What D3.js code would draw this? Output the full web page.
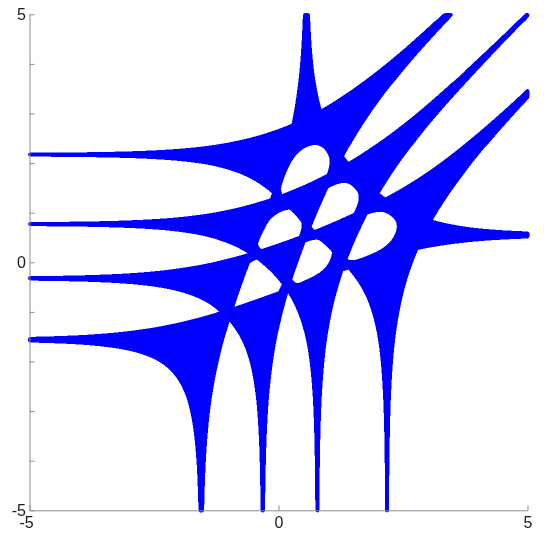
<!DOCTYPE html>
<html>
<head>
<meta charset="utf-8">
<script src="https://cdn.jsdelivr.net/npm/d3@7/dist/d3.min.js"></script>
<style>
  html, body { margin: 0; padding: 0; background: #fff; }
  #chart { position: relative; width: 544px; height: 535px; }
  #chart canvas, #chart svg { position: absolute; left: 0; top: 0; }
  .tick text { font-family: "Liberation Sans", Arial, sans-serif; font-size: 16px; fill: #1a1a1a; }
</style>
</head>
<body>
<div id="chart"></div>
<script>
// ---------------------------------------------------------------------------
// Amoeba of a symmetric polynomial p(x, y) = sum c[i][j] x^i y^j, p(x,y) = p(y,x),
// drawn in log coordinates (log|x|, log|y|) over [-5, 5] x [-5, 5].
// ---------------------------------------------------------------------------

// Asymptotes (log scale) of the four arms running left (and, mirrored, down)
const armLogPositions = [-1.555, -0.32, 0.775, 2.175];
// Asymptote of the single arm running up (and, mirrored, to the right)
const sideArmLog = 0.555;
// Offsets log|y| - log|x| of the two outer diagonal arms (the middle one sits at 0)
const diagonalArmOffset = 1.6;
// Interior monomials x^i y^j (each mirrored term x^j y^i shares the coefficient)
const interiorTerms = [[1, 1], [2, 1], [3, 1], [2, 2]];
const interiorCoefs = [79.48, 71.71, 16.03, 36.40];

// Axis ticks
const xTickValues = [-5, 0, 5];
const yTickValues = [-5, -4, -3, -2, -1, 0, 1, 2, 3, 4, 5];
const labelledTicks = [-5, 0, 5];

const W = 544, H = 535;
const xs = d3.scaleLinear().domain([-5, 5]).range([29.5, 527.5]);
const ys = d3.scaleLinear().domain([-5, 5]).range([510.3, 14.3]);

// Coefficient table: edge polynomials from the arm asymptotes, then the interior terms
function coefficientTable() {
  const roots = armLogPositions.map(Math.exp);
  const e = [1, 0, 0, 0, 0];                       // elementary symmetric functions
  roots.forEach(r => { for (let k = 4; k >= 1; k--) e[k] += e[k - 1] * r; });
  const C = Array.from({length: 5}, () => new Float64Array(5));
  for (let i = 0; i <= 4; i++) { C[i][0] = e[4 - i]; C[0][i] = e[4 - i]; }
  const c41 = Math.exp(-sideArmLog) * C[4][0];
  C[4][1] = C[1][4] = c41;
  const c32 = c41 * (1 + 2 * Math.cosh(diagonalArmOffset));
  C[3][2] = C[2][3] = c32;
  interiorTerms.forEach(([i, j], k) => { C[i][j] = C[j][i] = interiorCoefs[k]; });
  return C;
}

// Simultaneous (Aberth) iteration for the four roots of a monic quartic
function aberth(ar, ai, zr, zi, maxIt) {
  for (let it = 0; it < maxIt; it++) {
    let maxStep = 0;
    for (let k = 0; k < 4; k++) {
      const xr = zr[k], xi = zi[k];
      let pr = ar[4], pi = ai[4], dr = 0, di = 0;
      for (let j = 3; j >= 0; j--) {
        let t = dr * xr - di * xi + pr; di = dr * xi + di * xr + pi; dr = t;
        t = pr * xr - pi * xi + ar[j]; pi = pr * xi + pi * xr + ai[j]; pr = t;
      }
      let den = dr * dr + di * di; if (!(den > 0)) den = 1e-300;
      const nr = (pr * dr + pi * di) / den, ni = (pi * dr - pr * di) / den;
      let sr = 0, si = 0;
      for (let j = 0; j < 4; j++) if (j !== k) {
        const er = xr - zr[j], ei = xi - zi[j];
        let e2 = er * er + ei * ei; if (!(e2 > 0)) e2 = 1e-300;
        sr += er / e2; si -= ei / e2;
      }
      const qr = 1 - (nr * sr - ni * si), qi = -(nr * si + ni * sr);
      let q2 = qr * qr + qi * qi; if (!(q2 > 0)) q2 = 1e-300;
      const wr = (nr * qr + ni * qi) / q2, wi = (ni * qr - nr * qi) / q2;
      zr[k] = xr - wr; zi[k] = xi - wi;
      const s = (Math.abs(wr) + Math.abs(wi)) / (Math.abs(xr) + Math.abs(xi) + 1e-300);
      if (s > maxStep) maxStep = s;
    }
    if (!isFinite(maxStep)) return false;
    if (maxStep < 1e-9) return true;
  }
  return false;
}
function coldStart(ar, ai, zr, zi) {
  const rho = Math.pow(Math.hypot(ar[0], ai[0]), 0.25) || 1;
  for (let k = 0; k < 4; k++) {
    const a = k * Math.PI / 2 + 0.7;
    zr[k] = rho * Math.cos(a); zi[k] = rho * Math.sin(a);
  }
}

// Supersampled coverage mask of the amoeba
const SS = 2, SW = W * SS, SH = H * SS;
const mask = new Uint8Array(SW * SH);
function stamp(u, v) {
  if (u < -5 || u > 5 || v < -5 || v > 5) return;
  const px = Math.round(xs(u) * SS), py = Math.round(ys(v) * SS);
  if (px >= 0 && px < SW && py >= 0 && py < SH) mask[py * SW + px] = 1;
}

// Walk x = e^(u + i*phi) over a grid, solve p(x, y) = 0 for y and mark (log|x|, log|y|);
// the polynomial is symmetric, so the mirrored point (log|y|, log|x|) belongs too.
function sampleAmoeba(C) {
  const Nphi = 480, u0 = -5, du = 0.01, Nu = 1001;
  const zr = new Float64Array(4), zi = new Float64Array(4);
  const ar = new Float64Array(5), ai = new Float64Array(5);
  const cosI = new Float64Array(5), sinI = new Float64Array(5), rp = new Float64Array(5);
  for (let k = 0; k < Nphi; k++) {
    const phi = (k + 0.5) * 2 * Math.PI / Nphi;
    for (let i = 0; i < 5; i++) { cosI[i] = Math.cos(i * phi); sinI[i] = Math.sin(i * phi); }
    let warm = false;
    for (let m = 0; m < Nu; m++) {
      const u = u0 + m * du, r = Math.exp(u);
      rp[0] = 1; for (let i = 1; i < 5; i++) rp[i] = rp[i - 1] * r;
      for (let j = 0; j < 5; j++) {
        let sr = 0, si = 0;
        for (let i = 0; i < 5; i++) {
          const c = C[i][j];
          if (c !== 0) { sr += c * rp[i] * cosI[i]; si += c * rp[i] * sinI[i]; }
        }
        ar[j] = sr; ai[j] = si;
      }
      const d = ar[4] * ar[4] + ai[4] * ai[4];
      if (!(d > 1e-300)) { warm = false; continue; }
      const ir = ar[4] / d, ii = -ai[4] / d;
      for (let j = 0; j < 4; j++) {
        const t = ar[j] * ir - ai[j] * ii; ai[j] = ar[j] * ii + ai[j] * ir; ar[j] = t;
      }
      ar[4] = 1; ai[4] = 0;
      let ok = false;
      if (warm) ok = aberth(ar, ai, zr, zi, 40);
      if (!ok) { coldStart(ar, ai, zr, zi); ok = aberth(ar, ai, zr, zi, 400); }
      warm = ok;
      if (!ok) continue;
      for (let q = 0; q < 4; q++) {
        const lv = 0.5 * Math.log(zr[q] * zr[q] + zi[q] * zi[q]);
        stamp(u, lv); stamp(lv, u);
      }
    }
  }
}
sampleAmoeba(coefficientTable());

// Round markers: dilate the samples with a small disc, then downsample for smooth edges
const R = 3, offs = [];
for (let dy = -R; dy <= R; dy++) for (let dx = -R; dx <= R; dx++) if (dx * dx + dy * dy <= R * R + 0.5) offs.push(dy * SW + dx);
const dil = new Uint8Array(SW * SH);
for (let y = R; y < SH - R; y++) for (let x = R; x < SW - R; x++) {
  const idx = y * SW + x;
  if (mask[idx]) for (const o of offs) dil[idx + o] = 1;
}

const chart = d3.select("#chart");
const canvas = chart.append("canvas").attr("width", W).attr("height", H).node();
const ctx = canvas.getContext("2d");
const img = ctx.createImageData(W, H);
for (let y = 0; y < H; y++) for (let x = 0; x < W; x++) {
  const s = dil[(2 * y) * SW + 2 * x] + dil[(2 * y) * SW + 2 * x + 1] +
            dil[(2 * y + 1) * SW + 2 * x] + dil[(2 * y + 1) * SW + 2 * x + 1];
  const p = (y * W + x) * 4;
  img.data[p] = 0; img.data[p + 1] = 0; img.data[p + 2] = 255;
  img.data[p + 3] = Math.round(s / 4 * 255);
}
ctx.putImageData(img, 0, 0);

// Axes
const svg = chart.append("svg").attr("width", W).attr("height", H);
const yAxis = d3.axisLeft(ys).tickValues(yTickValues).tickSize(-5).tickSizeOuter(0).tickPadding(3.5)
  .tickFormat(d => labelledTicks.includes(d) ? String(d) : "");
const xAxis = d3.axisBottom(xs).tickValues(xTickValues).tickSize(-5).tickSizeOuter(0).tickPadding(6)
  .tickFormat(d => String(d));
svg.append("g").attr("transform", `translate(${xs(-5)},0)`).call(yAxis);
const gx = svg.append("g").attr("transform", `translate(0,${ys(-5)})`).call(xAxis);
gx.selectAll(".tick text").attr("dx", d => d < 0 ? -3.5 : 0);
svg.selectAll(".domain, .tick line").attr("stroke", "#8c8c8c");
</script>
</body>
</html>
